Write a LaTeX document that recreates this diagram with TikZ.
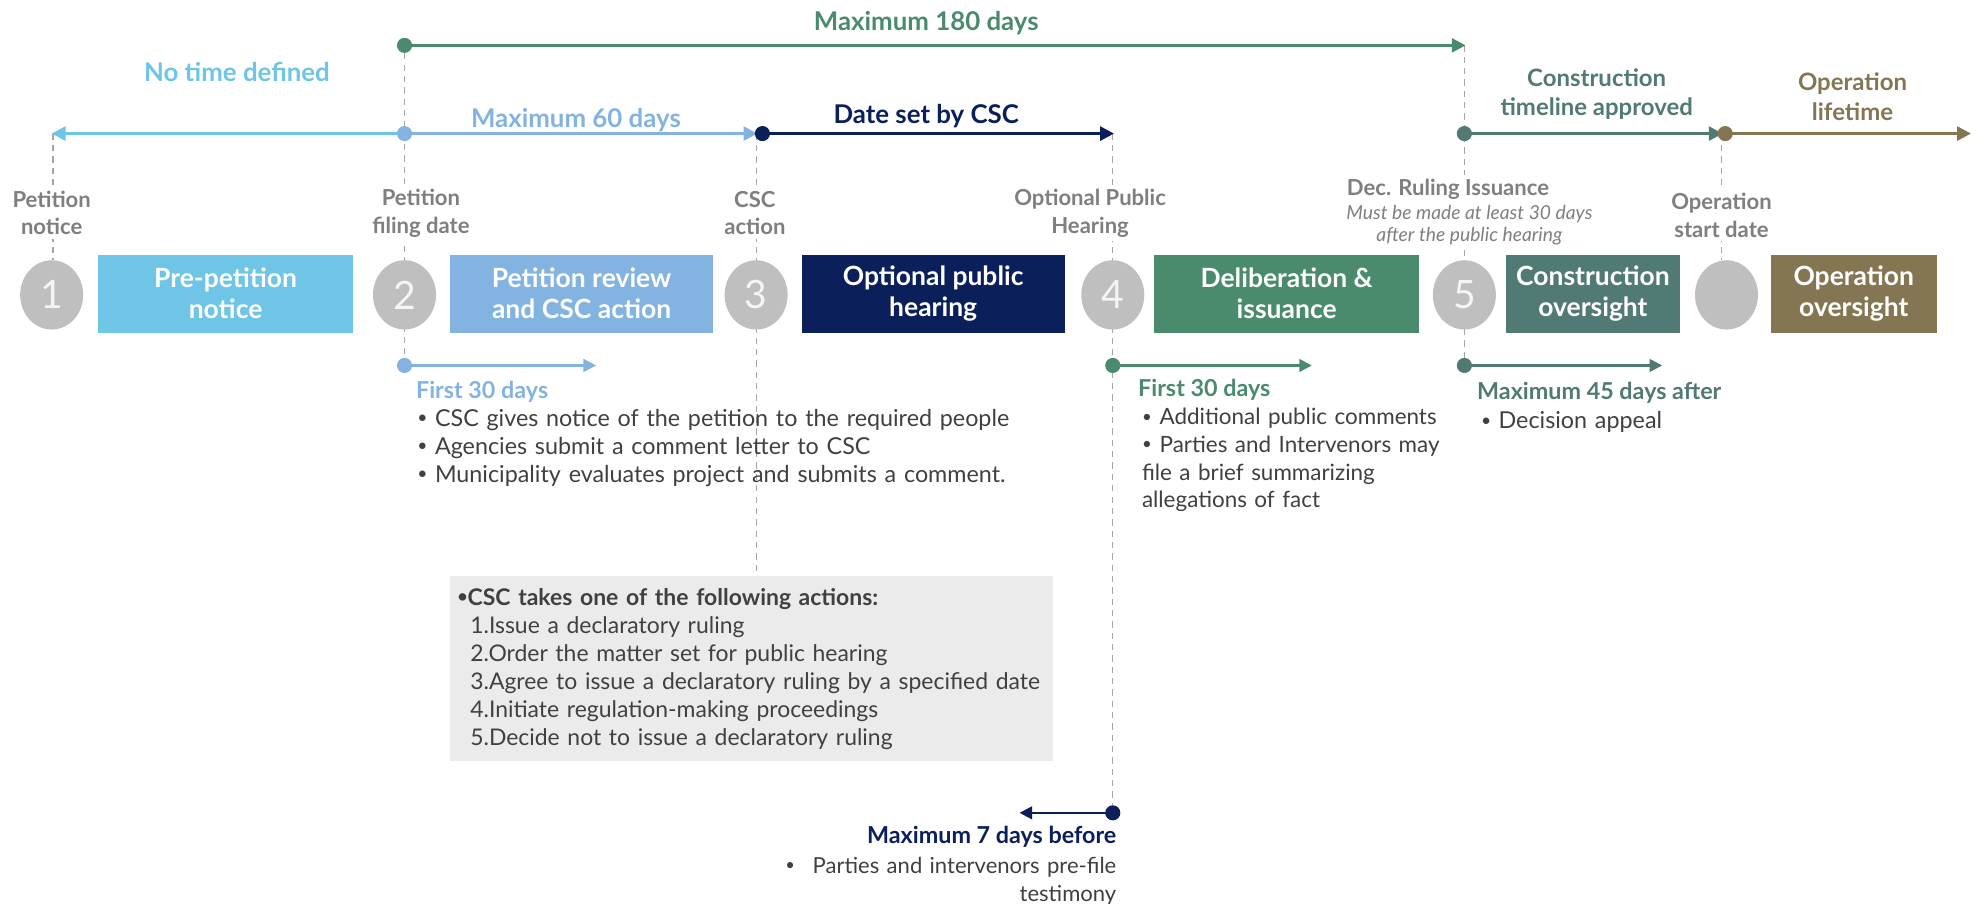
\documentclass[tikz,border=0pt]{standalone}
\usepackage{fontspec}
\setmainfont{Lato}
\usetikzlibrary{arrows.meta,shapes.geometric,backgrounds}
\definecolor{cLB}{HTML}{6EC5E6}
\definecolor{cMB}{HTML}{83B3E1}
\definecolor{cNV}{HTML}{0B1F5B}
\definecolor{cGR}{HTML}{4A8B6D}
\definecolor{cTL}{HTML}{527A75}
\definecolor{cOL}{HTML}{857653}
\definecolor{cLab}{HTML}{7F7F7F}
\definecolor{cTxt}{HTML}{404040}
\definecolor{cCirc}{HTML}{BFBFBF}
\definecolor{cDash}{HTML}{A6A6A6}
\definecolor{cBox}{HTML}{EBEBEB}
\newcommand{\smbul}{\raisebox{0.12em}{\scalebox{0.75}{\textbullet}}}
\newcommand{\bul}[1]{\par\noindent\hangindent=14pt\hangafter=1\makebox[14pt][l]{\smbul}#1}
\tikzset{
  head/.style={font=\bfseries\fontsize{20.5}{24}\selectfont, align=center, inner sep=0pt},
  lab/.style={text=cLab, font=\bfseries\fontsize{17.5}{22}\selectfont, align=center, fill=white, inner xsep=1pt, inner ysep=3pt},
  phase/.style={minimum height=62pt, inner sep=0pt, text=white, align=center,
    font=\bfseries\fontsize{21}{24.5}\selectfont},
  numc/.style={ellipse, fill=cCirc, minimum width=50pt, minimum height=55pt, inner sep=0pt,
    text=white!96!black, font=\fontsize{31}{31}\selectfont},
  dotn/.style={circle, minimum size=12pt, inner sep=0pt},
  tline/.style={line width=2.4pt, -{Triangle[length=11pt,width=11pt]}, shorten >=-1pt},
  sline/.style={line width=2pt, -{Triangle[length=10pt,width=10pt]}},
  dashv/.style={cDash, line width=1pt, dash pattern=on 5pt off 4pt},
  subhead/.style={font=\bfseries\fontsize{18.5}{22}\selectfont, inner sep=0pt},
  blist/.style={text=cTxt, font=\fontsize{18.5}{22.3}\selectfont, align=left, inner sep=0pt},
  gbox/.style={fill=cBox, text=cTxt, font=\fontsize{18.2}{22.2}\selectfont, align=left,
    inner xsep=6pt, inner ysep=0pt},
}
\begin{document}
\begin{tikzpicture}[x=1pt,y=-1pt]
\useasboundingbox (0,0) rectangle (1568,717);

% ---- top timeline ----
\node[head, text=cGR] (h180) at (735,18) {Maximum 180 days};
\node[dotn, fill=cGR] (d180) at (321,36) {};
\coordinate (e180) at (1162,36);
\draw[tline, cGR] (d180.center) -- (e180);

\node[head, text=cLB] (hNT) at (188,57) {No time defined};
\node[head, text=cMB] (h60) at (457,95) {Maximum 60 days};
\node[head, text=cNV] (hCSC) at (735,92) {Date set by CSC};
\node[head, text=cTL, font=\bfseries\fontsize{19}{23}\selectfont] (hCon) at (1267,75) {Construction\\timeline approved};
\node[head, text=cOL, font=\bfseries\fontsize{19}{24}\selectfont] (hOp) at (1470,77) {Operation\\lifetime};

\coordinate (eNT) at (42,106);
\coordinate (e60) at (600,106);
\coordinate (eCSC) at (883,106);
\coordinate (eCon) at (1366,106);
\coordinate (eOp) at (1563,106);
\draw[tline, cLB] (321,106) -- (eNT);
\node[dotn, fill=cMB] (d60) at (321,106) {};
\draw[tline, cMB] (d60.center) -- (e60);
\node[dotn, fill=cNV] (dCSC) at (605,106) {};
\draw[tline, cNV] (dCSC.center) -- (eCSC);
\node[dotn, fill=cTL] (dCon) at (1162,106) {};
\draw[tline, cTL] (dCon.center) -- (eCon);
\node[dotn, fill=cOL] (dOp) at (1369,106) {};
\draw[tline, cOL] (dOp.center) -- (eOp);

% ---- milestone labels ----
\node[lab] (lPN) at (41,169) {Petition\\notice};
\node[lab] (lPF) at (334,169) {Petition\\filing date};
\node[lab] (lCA) at (599,169) {CSC\\action};
\node[lab] (lOH) at (865,169) {Optional Public\\Hearing};
\node[lab] (lDR) at (1149,150) {Dec. Ruling Issuance};
\node[lab, font=\itshape\fontsize{15.3}{17.5}\selectfont] (lDRs) at (1166,179) {Must be made at least 30 days\\after the public hearing};
\node[lab] (lOS) at (1366,171) {Operation\\start date};

% ---- circles and phases ----
\node[numc] (c1) at (41,234) {1};
\node[numc] (c2) at (321,234) {2};
\node[numc] (c3) at (600,234) {3};
\node[numc] (c4) at (883,234) {4};
\node[numc] (c5) at (1162,234) {5};
\node[numc] (c6) at (1370,234) {};

\node[phase, fill=cLB, minimum width=202pt] (b1) at (179,233) {Pre-petition\\notice};
\node[phase, fill=cMB, minimum width=209pt] (b2) at (461.5,233) {Petition review\\and CSC action};
\node[phase, fill=cNV, minimum width=209pt] (b3) at (740.5,233) {Optional public\\hearing};
\node[phase, fill=cGR, minimum width=210pt] (b4) at (1021,233) {Deliberation \&\\issuance};
\node[phase, fill=cTL, minimum width=138pt] (b5) at (1264,233) {Construction\\oversight};
\node[phase, fill=cOL, minimum width=132pt] (b6) at (1471,233) {Operation\\oversight};

% ---- sub timelines ----
\node[dotn, fill=cMB] (dF1) at (321,290) {};
\coordinate (eF1) at (473,290);
\draw[sline, cMB] (dF1.center) -- (eF1);
\node[subhead, text=cMB, anchor=base west] (sF1) at (330,316) {First 30 days};
\node[blist, text width=520pt, anchor=base west] (L1) at (331,316) {%
\bul{CSC gives notice of the petition to the required people}
\bul{Agencies submit a comment letter to CSC}
\bul{Municipality evaluates project and submits a comment.}};

\node[dotn, fill=cGR] (dF2) at (883,290) {};
\coordinate (eF2) at (1041,290);
\draw[sline, cGR] (dF2.center) -- (eF2);
\node[subhead, text=cGR, anchor=base west] (sF2) at (903,315) {First 30 days};
\node[blist, font=\fontsize{17.8}{22}\selectfont, text width=250pt, anchor=base west] (L2) at (906,315) {%
\bul{Additional public comments}
\bul{Parties and Intervenors may\\file a brief summarizing\\allegations of fact}};

\node[dotn, fill=cTL] (dF3) at (1162,290) {};
\coordinate (eF3) at (1319,290);
\draw[sline, cTL] (dF3.center) -- (eF3);
\node[subhead, text=cTL, anchor=base west] (sF3) at (1172,317) {Maximum 45 days after};
\node[blist, text width=250pt, anchor=base west] (L3) at (1175,318) {%
\bul{Decision appeal}};

% ---- grey action box ----
\node[gbox, anchor=north west, text width=466pt, minimum height=147pt] (gb) at (357,457) {%
{\bfseries\smbul CSC takes one of the following actions:}\\
\hspace*{10pt}1.Issue a declaratory ruling\\
\hspace*{10pt}2.Order the matter set for public hearing\\
\hspace*{10pt}3.Agree to issue a declaratory ruling by a specified date\\
\hspace*{10pt}4.Initiate regulation-making proceedings\\
\hspace*{10pt}5.Decide not to issue a declaratory ruling};

% ---- bottom: before hearing ----
\node[dotn, fill=cNV] (dF4) at (883,645) {};
\coordinate (eF4) at (809,645);
\draw[sline, cNV] (dF4.center) -- (eF4);
\node[subhead, text=cNV, anchor=base east] (sF4) at (886,669) {Maximum 7 days before};
\node[blist, font=\fontsize{17.5}{22}\selectfont, text width=300pt, align=right, anchor=base east] (L4) at (886,693) {%
\smbul\hspace{14pt}Parties and intervenors pre-file\\testimony};

% ---- dashed guide lines ----
\begin{scope}[on background layer]
\draw[dashv] (eNT) -- (eNT |- c1.north);
\draw[dashv] (d180) -- (dF1);
\draw[dashv] (e60) -- (e60 |- gb.north);
\draw[dashv] (eCSC) -- (dF4);
\draw[dashv] (e180) -- (dF3);
\draw[dashv] (eCon) -- (eCon |- c6.north);
\end{scope}
\end{tikzpicture}
\end{document}
